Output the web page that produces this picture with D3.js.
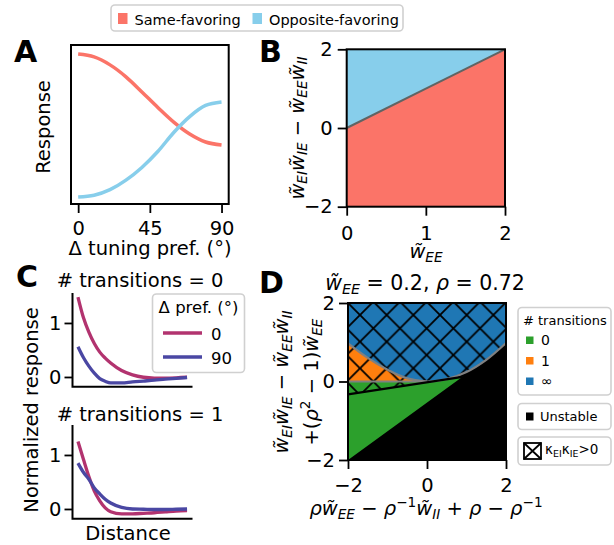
<!DOCTYPE html>
<html>
<head>
<meta charset="utf-8">
<script src="https://cdn.jsdelivr.net/npm/d3@7"></script>
<style>
  body { margin: 0; background: #fff; }
  svg { display: block; }
  text { font-family: "DejaVu Sans", sans-serif; fill: #000; }
</style>
</head>
<body>
<svg id="fig" width="614" height="545"></svg>
<script>
// ---- panel A: response vs tuning preference difference
const prefDeg = [0, 10, 20, 30, 40, 50, 60, 70, 80, 90];
const sameFav = [0.943, 0.925, 0.875, 0.80, 0.705, 0.607, 0.515, 0.44, 0.39, 0.371];
const oppFav = [0.044, 0.055, 0.09, 0.15, 0.23, 0.33, 0.45, 0.55, 0.62, 0.642];
const degTicks = [0, 45, 90];

// ---- panel B: boundary between same / opposite favoring
const bWee = [0, 1, 2];
const bBoundary = [0, 1, 2];
const bTicksX = [0, 1, 2];
const bTicksY = [-2, 0, 2];

// ---- panel C: normalized response vs distance
const dist = [0, 0.5, 1, 1.5, 2, 2.5, 3, 4, 5, 6, 7, 8, 9, 10];
const c0Same = [1.48, 1.10, 0.83, 0.62, 0.46, 0.35, 0.26, 0.12, 0.04, -0.005, -0.02, -0.02, -0.015, -0.005];
const c0Opp = [0.56, 0.36, 0.2, 0.07, -0.03, -0.08, -0.11, -0.11, -0.09, -0.075, -0.06, -0.04, -0.025, -0.01];
const c1Same = [1.25, 0.92, 0.6, 0.33, 0.15, 0.02, -0.05, -0.09, -0.09, -0.08, -0.07, -0.055, -0.04, -0.03];
const c1Opp = [0.85, 0.68, 0.55, 0.39, 0.28, 0.18, 0.11, 0.03, 0.0, -0.005, -0.01, -0.01, -0.005, 0];
const cTicksY = [0, 1];
const prefLabels = ['0', '90'];

// ---- panel D: phase diagram
const parabX = [-2, -1.5, -1, -0.5, 0, 0.5, 1, 1.5, 2];
const parabY = [0.97, 0.6, 0.3, 0.08, 0, 0.06, 0.24, 0.55, 0.98];
const kappaX = [-2, 0.9];
const kappaY = [-0.33, 0.12];
const stableX = [-2, 0.9];
const stableY = [-2, 0.12];
const dTicks = [-2, 0, 2];
const transLabels = ['0', '1', '\u221e'];

const sameColor = '#fb7468', oppColor = '#87ceeb';
const magenta = '#b2336f', indigo = '#4a47a3';
const tabGreen = '#2ca02c', tabOrange = '#ff7f0e', tabBlue = '#1f77b4';
const w = 'w\u0303';
const FS = 19.5;
const intFmt = d3.format('d');

const svg = d3.select('#fig');
svg.append('rect').attr('width', 614).attr('height', 545).attr('fill', '#fff');

const defs = svg.append('defs');
defs.append('pattern')
    .attr('id', 'hatch')
    .attr('patternUnits', 'userSpaceOnUse')
    .attr('x', 12).attr('y', 12)
    .attr('width', 26.67).attr('height', 26.67)
    .append('path')
    .attr('d', 'M0,0L26.67,26.67M26.67,0L0,26.67')
    .attr('stroke', '#000').attr('stroke-width', 1.8);

function styleAxis(g) {
    g.select('.domain').remove();
    g.attr('font-size', FS).attr('font-family', '"DejaVu Sans", sans-serif');
    g.selectAll('.tick line').attr('stroke', '#000').attr('stroke-width', 1.8);
    g.selectAll('.tick text').attr('fill', '#000');
}

function frame(g, x0, y0, x1, y1) {
    g.append('rect')
        .attr('x', x0).attr('y', y0)
        .attr('width', x1 - x0).attr('height', y1 - y0)
        .attr('fill', 'none').attr('stroke', '#000').attr('stroke-width', 2);
}

// math-like text with italic symbols, sub- and superscripts
function mathText(parent, x, y, parts, size, anchor = 'middle', rotate = 0) {
    const t = parent.append('text')
        .attr('transform', `translate(${x},${y}) rotate(${rotate})`)
        .attr('text-anchor', anchor)
        .attr('font-size', size);
    let shift = 0;
    parts.forEach(([s, k]) => {
        let off = 0, fs = size, it = false;
        if (k === 'i') it = true;
        if (k === 'sub') { off = 0.2 * size; fs = 0.7 * size; it = true; }
        if (k === 'subr') { off = 0.2 * size; fs = 0.7 * size; }
        if (k === 'sup') { off = -0.4 * size; fs = 0.7 * size; }
        t.append('tspan')
            .attr('dy', off - shift)
            .attr('font-size', fs)
            .attr('font-style', it ? 'italic' : 'normal')
            .text(s);
        shift = off;
    });
    return t;
}

function panelLabel(txt, x, y) {
    svg.append('text').attr('x', x).attr('y', y)
        .attr('font-size', 30).attr('font-weight', 'bold').text(txt);
}

// ---- top legend
const topLeg = svg.append('g');
topLeg.append('rect').attr('x', 111).attr('y', 5).attr('width', 292).attr('height', 26).attr('rx', 4)
    .attr('fill', '#fff').attr('stroke', '#d0d0d0').attr('stroke-width', 1.6);
[['Same-favoring', sameColor, 118], ['Opposite-favoring', oppColor, 252.5]].forEach(([lab, col, x]) => {
    topLeg.append('rect').attr('x', x).attr('y', 13).attr('width', 9.5).attr('height', 11).attr('fill', col);
    topLeg.append('text').attr('x', x + 16.5).attr('y', 25).attr('font-size', 14.5).text(lab);
});

// ---- panel A
const ax = d3.scaleLinear().domain([-4.5, 94.5]).range([71, 228.7]);
const ay = d3.scaleLinear().domain([0, 1]).range([204, 45]);
const gA = svg.append('g');
const lineA = d3.line().x((d, i) => ax(prefDeg[i])).y(d => ay(d)).curve(d3.curveMonotoneX);
gA.append('path').attr('d', lineA(sameFav)).attr('fill', 'none').attr('stroke', sameColor).attr('stroke-width', 3.5);
gA.append('path').attr('d', lineA(oppFav)).attr('fill', 'none').attr('stroke', oppColor).attr('stroke-width', 3.5);
gA.append('g').attr('transform', 'translate(0,204)')
    .call(d3.axisBottom(ax).tickValues(degTicks).tickFormat(intFmt).tickSize(9).tickPadding(8))
    .call(styleAxis);
frame(gA, 71, 45, 228.7, 204);
gA.append('text').attr('x', 150).attr('y', 255).attr('text-anchor', 'middle').attr('font-size', FS)
    .text('\u0394 tuning pref. (\u00b0)');
gA.append('text').attr('transform', 'translate(50,127) rotate(-90)').attr('text-anchor', 'middle')
    .attr('font-size', FS).text('Response');
panelLabel('A', 14, 62);

// ---- panel B
const bx = d3.scaleLinear().domain([0, 2]).range([346.7, 505]);
const by = d3.scaleLinear().domain([-2, 2]).range([206.7, 49.3]);
const gB = svg.append('g');
const boundPts = bWee.map((v, i) => [bx(v), by(bBoundary[i])]);
gB.append('path')
    .attr('d', d3.line()([...boundPts, [bx(2), by(-2)], [bx(0), by(-2)]]) + 'Z')
    .attr('fill', sameColor);
gB.append('path')
    .attr('d', d3.line()([...boundPts, [bx(0), by(2)]]) + 'Z')
    .attr('fill', oppColor);
gB.append('path').attr('d', d3.line()(boundPts)).attr('fill', 'none').attr('stroke', '#5f6464').attr('stroke-width', 2);
gB.append('g').attr('transform', 'translate(0,206.7)')
    .call(d3.axisBottom(bx).tickValues(bTicksX).tickFormat(intFmt).tickSize(9).tickPadding(10))
    .call(styleAxis);
gB.append('g').attr('transform', 'translate(346.7,0)')
    .call(d3.axisLeft(by).tickValues(bTicksY).tickFormat(intFmt).tickSize(9).tickPadding(5))
    .call(styleAxis);
frame(gB, 346.7, 49.3, 505, 206.7);
mathText(gB, 426, 258, [[w, 'i'], ['EE', 'sub']], FS);
mathText(gB, 303.5, 128, [[w, 'i'], ['EI', 'sub'], [w, 'i'], ['IE', 'sub'], [' \u2212 ', 'r'],
    [w, 'i'], ['EE', 'sub'], [w, 'i'], ['II', 'sub']], FS, 'middle', -90);
panelLabel('B', 259, 62);

// ---- panel C
const cx = d3.scaleLinear().domain([-0.5, 10.5]).range([72.5, 192.5]);
const cyTop = d3.scaleLinear().domain([-0.18, 1.555]).range([386.7, 293]);
const cyBot = d3.scaleLinear().domain([-0.18, 1.555]).range([518.7, 425]);

function drawC(cy, same, opp, title, titleY) {
    const g = svg.append('g');
    const line = d3.line().x((d, i) => cx(dist[i])).y(d => cy(d)).curve(d3.curveMonotoneX);
    g.append('path').attr('d', line(same)).attr('fill', 'none').attr('stroke', magenta).attr('stroke-width', 3.3);
    g.append('path').attr('d', line(opp)).attr('fill', 'none').attr('stroke', indigo).attr('stroke-width', 3.3);
    g.append('g').attr('transform', 'translate(72.5,0)')
        .call(d3.axisLeft(cy).tickValues(cTicksY).tickFormat(intFmt).tickSize(8).tickPadding(3))
        .call(styleAxis);
    const [y0, y1] = cy.range();
    g.append('path').attr('d', `M72.5,${y1}V${y0}H192.5`).attr('fill', 'none').attr('stroke', '#000').attr('stroke-width', 2);
    g.append('text').attr('x', 140).attr('y', titleY).attr('text-anchor', 'middle').attr('font-size', FS).text(title);
    return g;
}
drawC(cyTop, c0Same, c0Opp, '# transitions = 0', 287);
drawC(cyBot, c1Same, c1Opp, '# transitions = 1', 421);

// legend for C
const legC = svg.append('g');
legC.append('rect').attr('x', 152.5).attr('y', 294).attr('width', 92).attr('height', 78.5).attr('rx', 4)
    .attr('fill', '#fff').attr('fill-opacity', 0.85).attr('stroke', '#d0d0d0').attr('stroke-width', 1.6);
legC.append('text').attr('x', 198.5).attr('y', 313).attr('text-anchor', 'middle').attr('font-size', 16.5)
    .text('\u0394 pref. (\u00b0)');
[[prefLabels[0], magenta, 333], [prefLabels[1], indigo, 357]].forEach(([lab, col, y]) => {
    legC.append('line').attr('x1', 163).attr('x2', 202).attr('y1', y).attr('y2', y)
        .attr('stroke', col).attr('stroke-width', 3.3);
    legC.append('text').attr('x', 211).attr('y', y + 7).attr('font-size', 16.5).text(lab);
});
svg.append('text').attr('x', 128).attr('y', 540).attr('text-anchor', 'middle').attr('font-size', FS).text('Distance');
svg.append('text').attr('transform', 'translate(38,410) rotate(-90)').attr('text-anchor', 'middle')
    .attr('font-size', FS).text('Normalized response');
panelLabel('C', 16, 287);

// ---- panel D
const dx = d3.scaleLinear().domain([-2, 2]).range([348, 506]);
const dy = d3.scaleLinear().domain([-2, 2]).range([460, 303]);
const gD = svg.append('g');
const plot = gD.append('g').attr('transform', 'translate(348,303)');
const px = v => dx(v) - 348, py = v => dy(v) - 303;
const pt = (x, y) => [px(x), py(y)];
const poly = pts => d3.line()(pts) + 'Z';

const parab = parabX.map((v, i) => pt(v, parabY[i]));
const parabCurve = d3.line().curve(d3.curveCatmullRom);

// unstable background
plot.append('rect').attr('x', 0).attr('y', 0).attr('width', px(2)).attr('height', py(-2)).attr('fill', '#000');
// 0 transitions
plot.append('path').attr('fill', tabGreen)
    .attr('d', poly([pt(stableX[0], stableY[0]), pt(stableX[1], stableY[1]), pt(0, 0), pt(-2, 0)]));
// 1 transition: between y = 0 and the parabola, left half
const leftParab = parabX.map((v, i) => [v, parabY[i]]).filter(d => d[0] <= 0).map(d => pt(d[0], d[1]));
plot.append('path').attr('fill', tabOrange)
    .attr('d', parabCurve([...leftParab.slice().reverse()]) + 'L' + pt(-2, 0).join(',') + 'Z');
// infinite transitions: above the parabola
plot.append('path').attr('fill', tabBlue)
    .attr('d', parabCurve(parab) + 'L' + pt(2, 2).join(',') + 'L' + pt(-2, 2).join(',') + 'Z');
// hatch region (kappa_EI kappa_IE > 0)
const rightParab = parabX.map((v, i) => [v, parabY[i]]).filter(d => d[0] > kappaX[1]).map(d => pt(d[0], d[1]));
plot.append('path').attr('fill', 'url(#hatch)')
    .attr('d', poly([pt(kappaX[0], kappaY[0]), pt(kappaX[1], kappaY[1]), ...rightParab, pt(2, 2), pt(-2, 2)]));
// boundaries
plot.append('path').attr('d', d3.line()([pt(-2, 0), pt(0, 0)])).attr('stroke', '#808080').attr('stroke-width', 2.2);
plot.append('path').attr('d', parabCurve(parab)).attr('fill', 'none').attr('stroke', '#808080').attr('stroke-width', 2.2);
plot.append('path').attr('d', d3.line()(kappaX.map((v, i) => pt(v, kappaY[i]))))
    .attr('stroke', '#000').attr('stroke-width', 2.2);

gD.append('g').attr('transform', 'translate(0,460)')
    .call(d3.axisBottom(dx).tickValues(dTicks).tickFormat(intFmt).tickSize(9).tickPadding(9))
    .call(styleAxis);
gD.append('g').attr('transform', 'translate(348,0)')
    .call(d3.axisLeft(dy).tickValues(dTicks).tickFormat(intFmt).tickSize(9).tickPadding(4))
    .call(styleAxis);
frame(gD, 348, 303, 506, 460);

mathText(gD, 425, 290, [[w, 'i'], ['EE', 'sub'], [' = 0.2, ', 'r'], ['\u03c1', 'i'], [' = 0.72', 'r']], 20.5);
mathText(gD, 426, 515, [['\u03c1', 'i'], [w, 'i'], ['EE', 'sub'], [' \u2212 ', 'r'], ['\u03c1', 'i'], ['\u22121', 'sup'],
    [w, 'i'], ['II', 'sub'], [' + ', 'r'], ['\u03c1', 'i'], [' \u2212 ', 'r'], ['\u03c1', 'i'], ['\u22121', 'sup']], FS);
mathText(gD, 288, 382, [[w, 'i'], ['EI', 'sub'], [w, 'i'], ['IE', 'sub'], [' \u2212 ', 'r'],
    [w, 'i'], ['EE', 'sub'], [w, 'i'], ['II', 'sub']], FS, 'middle', -90);
mathText(gD, 318, 382, [['+(', 'r'], ['\u03c1', 'i'], ['2', 'sup'], [' \u2212 1)', 'r'], [w, 'i'], ['EE', 'sub']],
    FS, 'middle', -90);
panelLabel('D', 259, 293);

// legends for D
const legD = svg.append('g');
function legBox(y, h) {
    legD.append('rect').attr('x', 518).attr('y', y).attr('width', 93).attr('height', h).attr('rx', 4)
        .attr('fill', '#fff').attr('stroke', '#d0d0d0').attr('stroke-width', 1.6);
}
legBox(307.5, 87.5);
legD.append('text').attr('x', 523).attr('y', 325).attr('font-size', 13).text('# transitions');
[tabGreen, tabOrange, tabBlue].forEach((col, i) => {
    const base = 345 + i * 20.5;
    legD.append('rect').attr('x', 526).attr('y', base - 8.5).attr('width', 7.5).attr('height', 7.5).attr('fill', col);
    legD.append('text').attr('x', 541).attr('y', base).attr('font-size', 14).text(transLabels[i]);
});
legBox(403.5, 26);
legD.append('rect').attr('x', 526).attr('y', 412.5).attr('width', 7.5).attr('height', 8).attr('fill', '#000');
legD.append('text').attr('x', 540).attr('y', 421).attr('font-size', 13).text('Unstable');
legBox(437, 28);
legD.append('rect').attr('x', 524).attr('y', 443).attr('width', 17).attr('height', 16)
    .attr('fill', '#fff').attr('stroke', '#000').attr('stroke-width', 1.8);
legD.append('path').attr('d', 'M524,443L541,459M541,443L524,459').attr('stroke', '#000').attr('stroke-width', 1.8);
mathText(legD, 545, 454, [['\u03ba', 'r'], ['EI', 'subr'], ['\u03ba', 'r'], ['IE', 'subr'], ['>0', 'r']], 13.5, 'start');
</script>
</body>
</html>
